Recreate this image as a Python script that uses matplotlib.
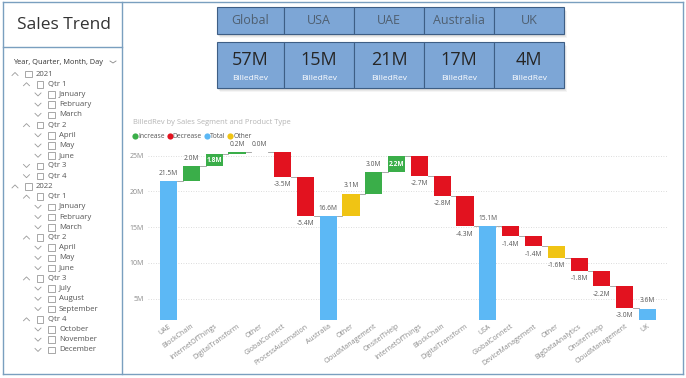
import matplotlib
matplotlib.use('Agg')
import matplotlib.pyplot as plt
from matplotlib.patches import Rectangle
from matplotlib import rcParams

rcParams['font.family'] = ['Open Sans', 'DejaVu Sans']

# waterfall data (millions)
categories = ['UAE', 'BlockChain', 'InternetOfThings', 'DigitalTransform', 'Other',
              'GlobalConnect', 'ProcessAutomation', 'Australia', 'Other', 'CloudManagement',
              'OnsiteITHelp', 'InternetOfThings', 'BlockChain', 'DigitalTransform', 'USA',
              'GlobalConnect', 'DeviceManagement', 'Other', 'BigDataAnalytics', 'OnsiteITHelp',
              'CloudManagement', 'UK']
values = [21.5, 2.0, 1.8, 0.2, 0.0, -3.5, -5.4, 16.6, 3.1, 3.0, 2.2, -2.7, -2.8, -4.3,
          15.1, -1.4, -1.4, -1.6, -1.8, -2.2, -3.0, 3.6]
kinds = ['total', 'inc', 'inc', 'inc', 'other', 'dec', 'dec', 'total', 'other', 'inc',
         'inc', 'dec', 'dec', 'dec', 'total', 'dec', 'dec', 'other', 'dec', 'dec', 'dec', 'total']

# cards
card_names = ['Global', 'USA', 'UAE', 'Australia', 'UK']
card_values = ['57M', '15M', '21M', '17M', '4M']

# slicer tree
slicer_labels = ['2021', 'Qtr 1', 'January', 'February', 'March', 'Qtr 2', 'April', 'May', 'June',
                 'Qtr 3', 'Qtr 4', '2022', 'Qtr 1', 'January', 'February', 'March', 'Qtr 2',
                 'April', 'May', 'June', 'Qtr 3', 'July', 'August', 'September', 'Qtr 4',
                 'October', 'November', 'December']
slicer_levels = [0, 1, 2, 2, 2, 1, 2, 2, 2, 1, 1, 0, 1, 2, 2, 2, 1, 2, 2, 2, 1, 2, 2, 2, 1, 2, 2, 2]
slicer_open = [1, 1, 0, 0, 0, 1, 0, 0, 0, 0, 0, 1, 1, 0, 0, 0, 1, 0, 0, 0, 1, 0, 0, 0, 1, 0, 0, 0]

colors = {'inc': '#3aae49', 'dec': '#e2121f', 'total': '#5cb8f5', 'other': '#f0c414'}
border = '#7a9fbf'

fig = plt.figure(figsize=(6.86, 3.78), dpi=100)

# pixel-space background layer
bg = fig.add_axes([0, 0, 1, 1])
bg.set_xlim(0, 686)
bg.set_ylim(378, 0)
bg.axis('off')

# panel borders
bg.plot([3, 683], [2, 2], color=border, lw=1.0)
bg.plot([3, 3], [2, 374], color=border, lw=1.0)
bg.plot([122, 122], [2, 374], color=border, lw=1.0)
bg.plot([683, 683], [2, 374], color=border, lw=1.0)
bg.plot([3, 683], [374, 374], color=border, lw=1.0)
bg.plot([3, 122], [47, 47], color=border, lw=1.0)

bg.text(17, 25, 'Sales Trend', fontsize=12.5, color='#333333', va='center')

# slicer
bg.text(13, 62, 'Year, Quarter, Month, Day', fontsize=5.3, color='#333333', va='center')
bg.plot([110, 113, 116], [61, 63, 61], color='#888888', lw=0.6)
for i, lab in enumerate(slicer_labels):
    y = 74 + i * 10.22
    lv = slicer_levels[i]
    cx = 15 + lv * 11.5
    if slicer_open[i]:
        bg.plot([cx - 3, cx, cx + 3], [y + 1.5, y - 1.5, y + 1.5], color='#999999', lw=0.6)
    else:
        bg.plot([cx - 3, cx, cx + 3], [y - 1.5, y + 1.5, y - 1.5], color='#999999', lw=0.6)
    bg.add_patch(Rectangle((cx + 10, y - 3.3), 6.6, 6.6, facecolor='white',
                           edgecolor='#999999', lw=0.6))
    bg.text(cx + 21, y, lab, fontsize=5.6, color='#555555', va='center')

# cards
card_x = [217, 284, 354, 424, 494, 564]
for i, name in enumerate(card_names):
    x0, x1 = card_x[i], card_x[i + 1]
    for (y0, y1) in [(7, 34), (42, 88)]:
        for k, a in enumerate([0.10, 0.08, 0.06]):
            bg.add_patch(Rectangle((x0 + 1 + k, y0 + 2 + k), x1 - x0, y1 - y0,
                                   facecolor='#555555', alpha=a, lw=0))
        bg.add_patch(Rectangle((x0, y0), x1 - x0, y1 - y0, facecolor='#7da6d6',
                               edgecolor='#3e5e85', lw=0.8))
    xc = (x0 + x1) / 2
    bg.text(xc, 20.5, name, fontsize=9, color='#4f5f70', ha='center', va='center')
    bg.text(xc, 60, card_values[i], fontsize=13, color='#262626', ha='center', va='center')
    bg.text(xc, 78.5, 'BilledRev', fontsize=6, color='white', ha='center', va='center')

# chart title and legend (items chained by measured text width)
bg.text(133, 122, 'BilledRev by Sales Segment and Product Type', fontsize=5.4,
        color='#b5b5b5', va='center')
renderer = fig.canvas.get_renderer()
leg_items = [('Increase', 'inc'), ('Decrease', 'dec'), ('Total', 'total'), ('Other', 'other')]
lx = 135
for lab, kd in leg_items:
    bg.scatter([lx], [136], s=20, color=colors[kd], lw=0)
    t = bg.text(lx + 3, 136, lab, fontsize=4.9, color='#555555', va='center')
    w = t.get_window_extent(renderer).width
    lx = lx + 3 + w + 5

# waterfall
ax = fig.add_axes([148 / 686, 58 / 378, 520 / 686, 170 / 378])
ax.patch.set_alpha(0)
level = 0.0
ends = []
for i, (v, kd) in enumerate(zip(values, kinds)):
    if kd == 'total':
        bottom, top = 0.0, v
        level = v
    else:
        bottom, top = level, level + v
        level = level + v
    lo, hi = min(bottom, top), max(bottom, top)
    ax.bar(i, hi - lo, bottom=lo, width=0.75, color=colors[kd], zorder=3)
    ends.append(level)
    lab = '%.1fM' % v
    if v < 0:
        ax.annotate(lab, (i, lo), xytext=(0, -3), textcoords='offset points',
                    ha='center', va='top', fontsize=4.8, color='#555555')
    elif kd == 'inc' and hi > 24.5 and v >= 1:
        ax.text(i, (lo + hi) / 2, lab, ha='center', va='center', fontsize=4.8,
                color='white', fontweight='bold', zorder=4)
    else:
        ax.annotate(lab, (i, hi), xytext=(0, 3), textcoords='offset points',
                    ha='center', va='bottom', fontsize=4.8, color='#555555')

for i in range(len(values) - 1):
    ax.plot([i + 0.375, i + 0.625], [ends[i], ends[i]], color='#9a9a9a', lw=0.6, zorder=2)

ax.set_xlim(-0.9, 21.9)
ax.set_ylim(2.0, 25.8)
ax.set_yticks([5, 10, 15, 20, 25])
ax.set_yticklabels(['5M', '10M', '15M', '20M', '25M'])
ax.grid(axis='y', color='#d0d0d0', linestyle=(0, (1, 2)), lw=0.6, zorder=0)
ax.set_xticks(range(len(categories)))
ax.set_xticklabels(categories, rotation=36, ha='right', rotation_mode='anchor')
ax.tick_params(length=0, labelsize=5, labelcolor='#8a8a8a')
ax.tick_params(axis='y', pad=3)
ax.tick_params(axis='x', pad=2)
for s in ax.spines.values():
    s.set_visible(False)

fig.savefig('out.png', dpi=100)
